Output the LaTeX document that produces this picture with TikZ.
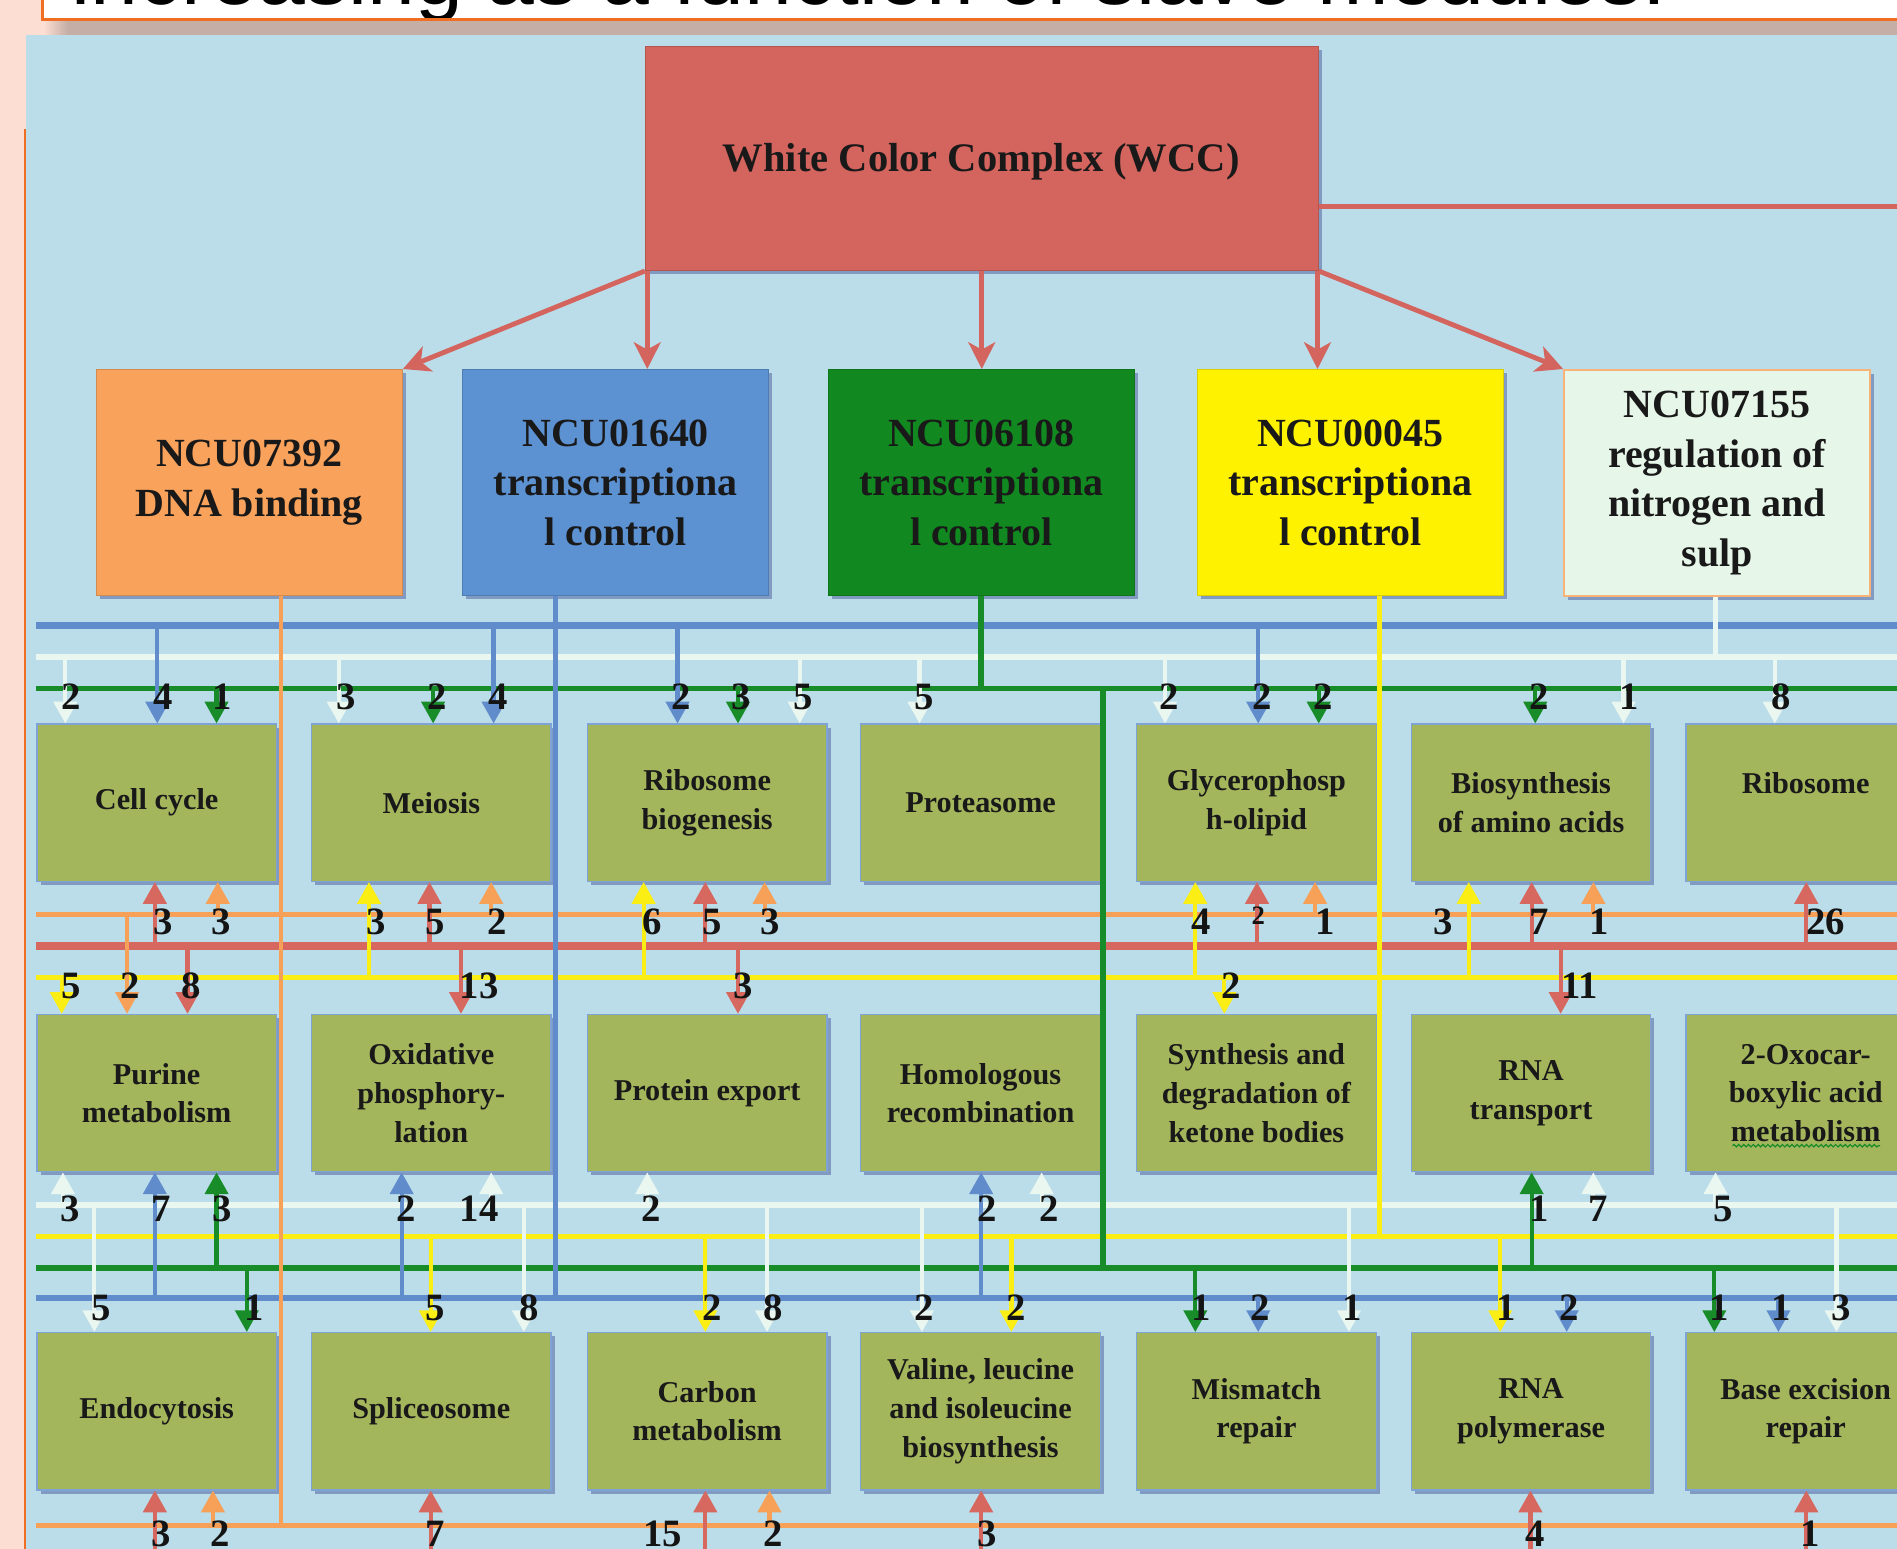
\documentclass[tikz,border=0pt]{standalone}
\usepackage{fontspec}
\setmainfont{Liberation Serif}
\newfontfamily\titlefont{Liberation Sans}
\usetikzlibrary{arrows.meta,shadows,decorations.pathmorphing}

\definecolor{bgblue}{RGB}{186,221,233}
\definecolor{slidepink}{RGB}{253,222,210}
\definecolor{slideorange}{RGB}{240,110,35}
\definecolor{bandgray}{RGB}{196,174,166}
\definecolor{wccred}{RGB}{212,100,94}
\definecolor{boxorange}{RGB}{248,162,92}
\definecolor{boxblue}{RGB}{92,145,210}
\definecolor{boxgreen}{RGB}{18,136,32}
\definecolor{boxyellow}{RGB}{255,242,0}
\definecolor{boxpale}{RGB}{230,246,232}
\definecolor{modolive}{RGB}{164,182,92}
\definecolor{cB}{RGB}{96,140,204}
\definecolor{cP}{RGB}{234,247,241}
\definecolor{cG}{RGB}{24,140,40}
\definecolor{cO}{RGB}{246,160,88}
\definecolor{cR}{RGB}{214,104,96}
\definecolor{cY}{RGB}{250,238,20}

\newcounter{lab}
% one flow: style, x, start (bus), end (box anchor), label position, label text
\newcommand\flow[6]{%
  \draw[#1] (#2,0 |- #3) -- (#2,0 |- #4);
  \stepcounter{lab}\node[num] (lab\arabic{lab}) at (#5) {#6};}

\tikzset{
  topbox/.style={rectangle, fill=#1, draw=#1!85!black, line width=1pt,
    minimum width=253pt, minimum height=187pt, inner sep=0pt, anchor=north west,
    align=center, text=black!90, font=\bfseries\fontsize{33}{41}\selectfont,
    drop shadow={shadow xshift=3pt, shadow yshift=-3pt, opacity=.3, fill=black!60!blue}},
  modbox/.style={rectangle, fill=modolive, draw=cB!80, line width=1pt,
    minimum width=198pt, minimum height=130pt, inner sep=0pt, anchor=north west,
    align=center, text=black!90, font=\bfseries\fontsize{25}{32}\selectfont,
    drop shadow={shadow xshift=3pt, shadow yshift=-3pt, opacity=.3, fill=black!60!blue}},
  num/.style={inner sep=0pt, text=black!92, font=\bfseries\fontsize{32}{32}\selectfont},
  fl/.style={line width=3.5pt, -{Triangle[width=19pt,length=18pt]}},
  fB/.style={fl, color=cB}, fP/.style={fl, color=cP}, fG/.style={fl, color=cG},
  fO/.style={fl, color=cO}, fR/.style={fl, color=cR}, fY/.style={fl, color=cY},
  wccarrow/.style={draw=wccred, line width=4pt, -{Stealth[width=22pt,length=22pt,inset=6pt]}},
}

\begin{document}
\begin{tikzpicture}[x=1pt, y=-1pt]
\useasboundingbox (0,0) rectangle (1568,1280);
\clip (0,0) rectangle (1568,1280);

% slide background, title strip and the diagram panel
\fill[slidepink] (0,0) rectangle (1568,1280);
\draw[fill=white, draw=slideorange, line width=2.5pt] (35,-40) rectangle (1620,16);
\node[anchor=base west, inner sep=0pt, font=\titlefont\fontsize{71}{73}\selectfont] (title) at (59,4)
  {increasing as a function of slave modules.};
\draw[slideorange, line width=2.5pt] (35,16) -- (1620,16);
\fill[left color=slidepink, right color=bandgray] (36,17.5) rectangle (56,29);
\fill[bandgray] (56,17.5) rectangle (1570,29);
\fill[bgblue] (21.5,29) rectangle (1570,1285);
\draw[slideorange, line width=1.5pt] (21,107) -- (21,1285);

% bus levels
\coordinate (uB) at (0,517);
\coordinate (uP) at (0,543);
\coordinate (uG) at (0,569);
\coordinate (mO) at (0,756);
\coordinate (mR) at (0,782);
\coordinate (mY) at (0,808);
\coordinate (lP) at (0,996);
\coordinate (lY) at (0,1022);
\coordinate (lG) at (0,1048);
\coordinate (lB) at (0,1073);
\coordinate (bO) at (0,1261);
\coordinate (bR) at (0,1295);

\draw[cB, line width=5.5pt] (30,0 |- uB) -- (1575,0 |- uB);
\draw[cP, line width=5.5pt] (30,0 |- uP) -- (1575,0 |- uP);
\draw[cG, line width=4.5pt] (30,0 |- uG) -- (1575,0 |- uG);
\draw[cO, line width=4.5pt] (30,0 |- mO) -- (1575,0 |- mO);
\draw[cR, line width=6.5pt] (30,0 |- mR) -- (1575,0 |- mR);
\draw[cY, line width=4.5pt] (30,0 |- mY) -- (1575,0 |- mY);
\draw[cP, line width=5.5pt] (30,0 |- lP) -- (1575,0 |- lP);
\draw[cY, line width=4.5pt] (30,0 |- lY) -- (1575,0 |- lY);
\draw[cG, line width=5pt] (30,0 |- lG) -- (1575,0 |- lG);
\draw[cB, line width=5pt] (30,0 |- lB) -- (1575,0 |- lB);
\draw[cO, line width=4.5pt] (30,0 |- bO) -- (1575,0 |- bO);

% master complex and its five regulators
\node[rectangle, fill=wccred, draw=wccred!85!black, line width=1pt, minimum width=556pt,
  minimum height=185pt, anchor=north west, inner sep=0pt,
  drop shadow={shadow xshift=3pt, shadow yshift=-3pt, opacity=.3, fill=black!60!blue}]
  (wcc) at (533,38) {};
\node[inner sep=0pt, text=black!90, font=\bfseries\fontsize{33.5}{40}\selectfont]
  (wcclabel) at (811,134) {White Color Complex (WCC)};
\node[topbox=boxorange] (ncuA) at (79,305) {NCU07392\\DNA binding};
\node[topbox=boxblue] (ncuB) at (382,305) {NCU01640\\transcriptiona\\l control};
\node[topbox=boxgreen] (ncuC) at (684,305) {NCU06108\\transcriptiona\\l control};
\node[topbox=boxyellow] (ncuD) at (989,305) {NCU00045\\transcriptiona\\l control};
\node[topbox=boxpale, draw=cO!80, line width=1.5pt] (ncuE) at (1292,305)
  {NCU07155\\regulation of\\nitrogen and\\sulp};

\coordinate (redend) at (1580,171);
\draw[wccred, line width=4pt] (wcc.east |- redend) -- (redend);
\draw[wccarrow] (wcc.south west) -- (ncuA.north east);
\draw[wccarrow] (535,0 |- wcc.south) -- (535,0 |- ncuB.north);
\draw[wccarrow] (wcc.south) -- (wcc.south |- ncuC.north);
\draw[wccarrow] (1089,0 |- wcc.south) -- (1089,0 |- ncuD.north);
\draw[wccarrow] (wcc.south east) -- (ncuE.north west);

% pathway modules
\node[modbox] (cc)   at (30,598)   {Cell cycle};
\node[modbox] (mei)  at (257,598)  {Meiosis};
\node[modbox] (rbg)  at (485,598)  {Ribosome\\biogenesis};
\node[modbox] (prot) at (711,598)  {Proteasome};
\node[modbox] (glyc) at (939,598)  {Glycerophosp\\h-olipid};
\node[modbox] (bio)  at (1166,598) {Biosynthesis\\of amino acids};
\node[modbox] (ribo) at (1393,598) {Ribosome\\\mbox{}};

\node[modbox] (pur)  at (30,838)   {Purine\\metabolism};
\node[modbox] (oxp)  at (257,838)  {Oxidative\\phosphory-\\lation};
\node[modbox] (pexp) at (485,838)  {Protein export};
\node[modbox] (hom)  at (711,838)  {Homologous\\recombination};
\node[modbox] (ket)  at (939,838)  {Synthesis and\\degradation of\\ketone bodies};
\node[modbox] (rnat) at (1166,838) {RNA\\transport};
\node[modbox] (oxo)  at (1393,838) {2-Oxocar-\\boxylic acid\\metabolism};
\draw[cG, line width=1pt, decorate, decoration={snake, amplitude=1pt, segment length=4pt}]
  (1432,947) -- (1554,947);

\node[modbox] (endo) at (30,1101)   {Endocytosis};
\node[modbox] (spl)  at (257,1101)  {Spliceosome};
\node[modbox] (carb) at (485,1101)  {Carbon\\metabolism};
\node[modbox] (val)  at (711,1101)  {Valine, leucine\\and isoleucine\\biosynthesis};
\node[modbox] (mis)  at (939,1101)  {Mismatch\\repair};
\node[modbox] (rnap) at (1166,1101) {RNA\\polymerase};
\node[modbox] (ber)  at (1393,1101) {Base excision\\repair};

% regulator trunks down to their buses
\draw[cO, line width=3.5pt] (232,0 |- ncuA.south) -- (232,0 |- bO);
\draw[cB, line width=4pt] (459,0 |- ncuB.south) -- (459,0 |- lB);
\draw[cG, line width=5pt] (ncuC.south) -- (ncuC.south |- uG);
\draw[cG, line width=5pt] (912,0 |- uG) -- (912,0 |- lG);
\draw[cY, line width=4pt] (1140,0 |- ncuD.south) -- (1140,0 |- lY);
\draw[cP, line width=4pt] (1418,0 |- ncuE.south) -- (1418,0 |- uP);

% first row, from above
\flow{fP}{54}{uP}{cc.north}{59,576}{2}
\flow{fB}{130}{uB}{cc.north}{135,576}{4}
\flow{fG}{179}{uG}{cc.north}{184,576}{1}
\flow{fP}{280}{uP}{mei.north}{286,576}{3}
\flow{fG}{358}{uG}{mei.north}{361,576}{2}
\flow{fB}{408}{uB}{mei.north}{412,576}{4}
\flow{fB}{560}{uB}{rbg.north}{563,576}{2}
\flow{fG}{610}{uG}{rbg.north}{613,576}{3}
\flow{fP}{661}{uP}{rbg.north}{664,576}{5}
\flow{fP}{760}{uP}{prot.north}{764,576}{5}
\flow{fP}{963}{uP}{glyc.north}{966,576}{2}
\flow{fB}{1040}{uB}{glyc.north}{1043,576}{2}
\flow{fG}{1090}{uG}{glyc.north}{1094,576}{2}
\flow{fG}{1269}{uG}{bio.north}{1272,576}{2}
\flow{fP}{1342}{uP}{bio.north}{1347,576}{1}
\flow{fP}{1467}{uP}{ribo.north}{1472,576}{8}

% first row, from below
\flow{fR}{128}{mR}{cc.south}{135,762}{3}
\flow{fO}{180}{mO}{cc.south}{183,762}{3}
\flow{fY}{305}{mY}{mei.south}{311,762}{3}
\flow{fR}{355}{mR}{mei.south}{360,762}{5}
\flow{fO}{406}{mO}{mei.south}{411,762}{2}
\flow{fY}{532}{mY}{rbg.south}{539,762}{6}
\flow{fR}{583}{mR}{rbg.south}{589,762}{5}
\flow{fO}{632}{mO}{rbg.south}{637,762}{3}
\flow{fY}{988}{mY}{glyc.south}{993,762}{4}
\flow{fR}{1039}{mR}{glyc.south}{1040,757}{\fontsize{22}{22}\selectfont 2}
\flow{fO}{1087}{mO}{glyc.south}{1095,762}{1}
\flow{fY}{1214}{mY}{bio.south}{1193,762}{3}
\flow{fR}{1266}{mR}{bio.south}{1272,762}{7}
\flow{fO}{1317}{mO}{bio.south}{1322,762}{1}
\flow{fR}{1493}{mR}{ribo.south}{1509,762}{26}

% second row, from above
\flow{fY}{51}{mY}{pur.north}{59,815}{5}
\flow{fO}{105}{mO}{pur.north}{108,815}{2}
\flow{fR}{155}{mR}{pur.north}{158,815}{8}
\flow{fR}{381}{mR}{oxp.north}{396,815}{13}
\flow{fR}{610}{mR}{pexp.north}{614,815}{3}
\flow{fY}{1012}{mY}{ket.north}{1018,815}{2}
\flow{fR}{1290}{mR}{rnat.north}{1306,815}{11}

% second row, from below
\flow{fP}{52}{lP}{pur.south}{58,999}{3}
\flow{fB}{128}{lB}{pur.south}{133,999}{7}
\flow{fG}{179}{lG}{pur.south}{184,999}{3}
\flow{fB}{332}{lB}{oxp.south}{336,999}{2}
\flow{fP}{406}{lP}{oxp.south}{396,999}{14}
\flow{fP}{535}{lP}{pexp.south}{538,999}{2}
\flow{fB}{811}{lB}{hom.south}{816,999}{2}
\flow{fP}{861}{lP}{hom.south}{867,999}{2}
\flow{fG}{1266}{lG}{rnat.south}{1272,999}{1}
\flow{fP}{1317}{lP}{rnat.south}{1321,999}{7}
\flow{fP}{1418}{lP}{oxo.south}{1424,999}{5}

% third row, from above
\flow{fP}{78}{lP}{endo.north}{84,1081}{5}
\flow{fG}{204}{lG}{endo.north}{210,1081}{1}
\flow{fY}{356}{lY}{spl.north}{360,1081}{5}
\flow{fP}{433}{lP}{spl.north}{437,1081}{8}
\flow{fY}{583}{lY}{carb.north}{589,1081}{2}
\flow{fP}{634}{lP}{carb.north}{639,1081}{8}
\flow{fP}{762}{lP}{val.north}{764,1081}{2}
\flow{fY}{836}{lY}{val.north}{840,1081}{2}
\flow{fG}{988}{lG}{mis.north}{993,1081}{1}
\flow{fB}{1040}{lB}{mis.north}{1042,1081}{2}
\flow{fP}{1115}{lP}{mis.north}{1118,1081}{1}
\flow{fY}{1240}{lY}{rnap.north}{1245,1081}{1}
\flow{fB}{1295}{lB}{rnap.north}{1297,1081}{2}
\flow{fG}{1417}{lG}{ber.north}{1421,1081}{1}
\flow{fB}{1470}{lB}{ber.north}{1472,1081}{1}
\flow{fP}{1518}{lP}{ber.north}{1522,1081}{3}

% third row, from below
\flow{fR}{128}{bR}{endo.south}{133,1268}{3}
\flow{fO}{176}{bO}{endo.south}{182,1268}{2}
\flow{fR}{356}{bR}{spl.south}{360,1268}{7}
\flow{fR}{583}{bR}{carb.south}{548,1268}{15}
\flow{fO}{636}{bO}{carb.south}{639,1268}{2}
\flow{fR}{811}{bR}{val.south}{816,1268}{3}
\flow{fR}{1265}{bR}{rnap.south}{1269,1268}{4}
\flow{fR}{1493}{bR}{ber.south}{1496,1268}{1}
\end{tikzpicture}
\end{document}
